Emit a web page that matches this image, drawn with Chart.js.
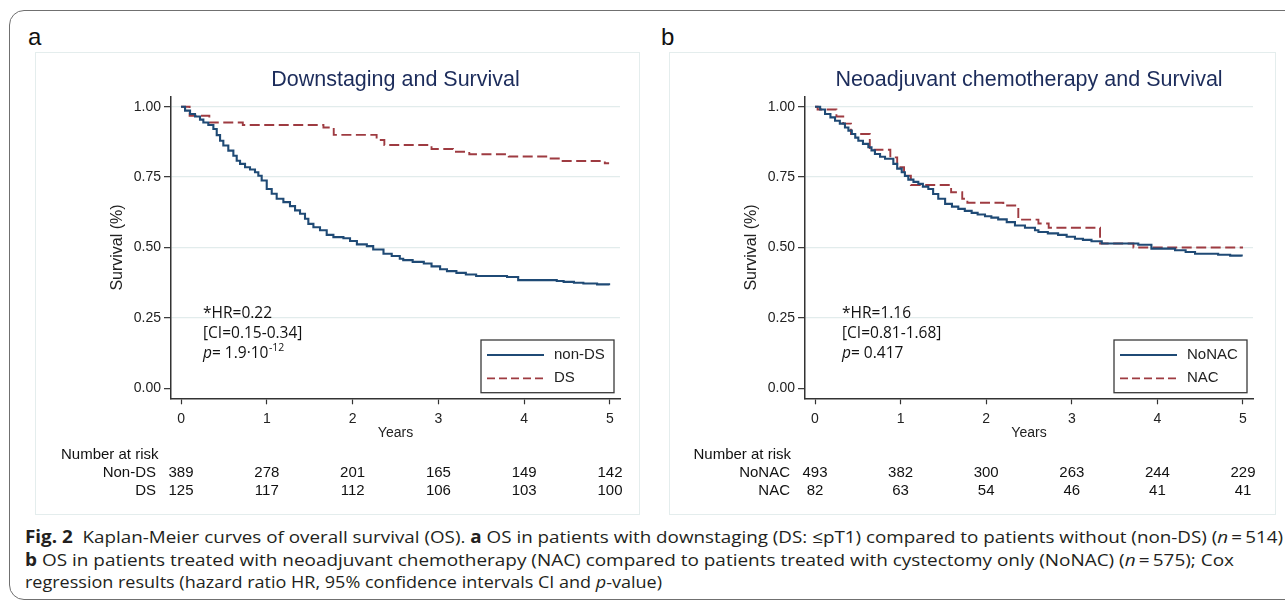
<!DOCTYPE html>
<html><head><meta charset="utf-8">
<script src="https://cdn.jsdelivr.net/npm/chart.js@4.4.1/dist/chart.umd.min.js"></script>
<style>
html,body{margin:0;padding:0;background:#fff;}
body{width:1285px;height:609px;position:relative;overflow:hidden;font-family:"Liberation Sans",Arial,sans-serif;}
#frame{position:absolute;left:9px;top:10px;width:1320px;height:590px;border:1.5px solid #707070;border-radius:15px;box-sizing:border-box;}
.plabel{position:absolute;font-size:24px;line-height:24px;color:#111;}
.pbox{position:absolute;top:52px;height:463px;border:1px solid #e4eded;box-sizing:border-box;}
canvas{position:absolute;top:52px;}
.cap{position:absolute;left:25px;font-family:"Open Sans",sans-serif;font-size:17px;line-height:22px;color:#231f20;white-space:nowrap;transform-origin:0 50%;}
</style></head>
<body>
<div id="frame"></div>
<div class="plabel" style="left:28px;top:24.5px;">a</div>
<div class="plabel" style="left:661px;top:24.7px;">b</div>
<div class="pbox" style="left:35px;width:605px;"></div>
<div class="pbox" style="left:669px;width:607px;"></div>
<canvas id="chartA" width="605" height="463" style="left:35px;width:605px;height:463px;"></canvas>
<canvas id="chartB" width="607" height="463" style="left:669px;width:607px;height:463px;"></canvas>
<div class="cap" data-w="1258" style="top:526.3px;"><b>Fig. 2</b>&nbsp; Kaplan-Meier curves of overall survival (OS). <b>a</b> OS in patients with downstaging (DS: ≤pT1) compared to patients without (non-DS) (<i>n</i>&thinsp;=&thinsp;514)</div>
<div class="cap" data-w="1209" style="top:548.8px;"><b>b</b> OS in patients treated with neoadjuvant chemotherapy (NAC) compared to patients treated with cystectomy only (NoNAC) (<i>n</i>&thinsp;=&thinsp;575); Cox</div>
<div class="cap" data-w="637" style="top:571.3px;">regression results (hazard ratio HR, 95% confidence intervals CI and <i>p</i>-value)</div>
<script>
// ---------- data ----------
const yearTicks = [0, 1, 2, 3, 4, 5];
const survivalTicks = [0, 0.25, 0.5, 0.75, 1];

// Panel a: Downstaging
const nonDS_t = [0,0.047,0.105,0.163,0.221,0.26,0.318,0.377,0.416,0.455,0.493,0.551,0.61,0.649,0.688,0.746,0.804,0.862,0.901,0.94,0.999,1.057,1.115,1.193,1.27,1.329,1.387,1.445,1.484,1.543,1.62,1.698,1.776,1.893,1.97,2.05,2.166,2.24,2.36,2.456,2.55,2.59,2.7,2.83,2.92,3.02,3.1,3.21,3.32,3.44,3.80,3.93,4.38,4.46,4.58,4.69,4.85,4.99];
const nonDS_s = [1,0.986,0.974,0.965,0.954,0.944,0.935,0.921,0.899,0.879,0.862,0.844,0.826,0.808,0.797,0.785,0.777,0.767,0.755,0.738,0.708,0.691,0.673,0.661,0.647,0.632,0.62,0.602,0.584,0.572,0.561,0.545,0.537,0.533,0.523,0.511,0.505,0.493,0.478,0.47,0.46,0.455,0.449,0.443,0.433,0.423,0.416,0.41,0.404,0.399,0.395,0.384,0.381,0.378,0.375,0.372,0.369,0.366];
const DS_t = [0,0.10,0.33,0.72,1.66,1.78,2.28,2.37,2.92,3.17,3.36,3.82,4.28,4.42,4.94,4.99];
const DS_s = [1,0.968,0.944,0.935,0.926,0.900,0.882,0.864,0.850,0.840,0.831,0.823,0.816,0.807,0.799,0.799];

// Panel b: Neoadjuvant chemotherapy
const NoNAC_t = [0,0.06,0.117,0.18,0.234,0.29,0.35,0.39,0.43,0.47,0.506,0.56,0.623,0.66,0.70,0.76,0.818,0.915,0.96,1.013,1.05,1.09,1.15,1.207,1.26,1.324,1.38,1.44,1.52,1.6,1.674,1.75,1.83,1.9,1.986,2.06,2.14,2.24,2.336,2.453,2.57,2.61,2.72,2.84,2.94,3.037,3.13,3.23,3.35,3.777,3.93,4.206,4.33,4.44,4.71,4.85,4.985];
const NoNAC_s = [1,0.99,0.974,0.962,0.95,0.94,0.926,0.915,0.903,0.89,0.879,0.868,0.856,0.845,0.832,0.822,0.815,0.797,0.78,0.767,0.754,0.741,0.733,0.726,0.716,0.708,0.69,0.673,0.655,0.645,0.637,0.63,0.623,0.617,0.611,0.606,0.60,0.59,0.578,0.57,0.561,0.555,0.55,0.545,0.538,0.531,0.527,0.522,0.514,0.51,0.496,0.49,0.484,0.478,0.474,0.471,0.468];
const NAC_t = [0,0.03,0.25,0.33,0.42,0.64,0.88,0.96,1.04,1.12,1.59,1.72,1.78,2.2,2.375,2.61,2.73,3.33,3.72,5.0];
const NAC_s = [1,0.99,0.965,0.94,0.903,0.847,0.82,0.785,0.755,0.722,0.696,0.673,0.659,0.649,0.599,0.585,0.57,0.514,0.50,0.50];

// Number at risk
const riskNonDS = [389, 278, 201, 165, 149, 142];
const riskDS    = [125, 117, 112, 106, 103, 100];
const riskNoNAC = [493, 382, 300, 263, 244, 229];
const riskNAC   = [82, 63, 54, 46, 41, 41];

// ---------- styling ----------
const BLUE = '#1f4a75';
const RED = '#9e3b41';
const FONT = '"Liberation Sans", Arial, sans-serif';
const AFONT = '"Open Sans", sans-serif';
Chart.defaults.font.family = FONT;
Chart.defaults.color = '#222';

const toPts = (t, s) => t.map((v, i) => ({x: v, y: s[i]}));

const kmExtras = {
  id: 'kmExtras',
  afterDatasetsDraw(chart, args, o) {
    const {ctx, chartArea: ca} = chart;
    const x = chart.scales.x;
    ctx.save();
    // title
    ctx.font = '21.5px ' + FONT;
    ctx.fillStyle = '#1c2c5b';
    ctx.textAlign = 'center';
    ctx.textBaseline = 'middle';
    ctx.fillText(o.title, (ca.left + ca.right) / 2, 28);

    // annotation
    ctx.fillStyle = '#111';
    ctx.textAlign = 'left';
    ctx.font = '15.5px ' + AFONT;
    ctx.fillText(o.ann[0], o.annX, 261.3);
    ctx.fillText(o.ann[1], o.annX, 281.5);
    ctx.font = 'italic 15.5px ' + AFONT;
    ctx.fillText('p', o.annX, 301.5);
    let px = o.annX + ctx.measureText('p').width;
    ctx.font = '15.5px ' + AFONT;
    ctx.fillText(o.ann[2], px, 301.5);
    if (o.sup) {
      px += ctx.measureText(o.ann[2]).width;
      ctx.font = '10.5px ' + AFONT;
      ctx.fillText(o.sup, px + 0.5, 296);
    }

    // legend
    const bw = 133, bh = 52.7;
    const bl = ca.right - 6 - bw, bt = ca.bottom - 5.6 - bh;
    ctx.fillStyle = '#fff';
    ctx.fillRect(bl, bt, bw, bh);
    ctx.strokeStyle = '#3a3a3a';
    ctx.lineWidth = 1.3;
    ctx.strokeRect(bl, bt, bw, bh);
    const rows = [bt + 15, bt + 38.3];
    o.legend.forEach((lab, i) => {
      ctx.beginPath();
      ctx.strokeStyle = i === 0 ? BLUE : RED;
      ctx.lineWidth = 1.8;
      ctx.setLineDash(i === 0 ? [] : [8, 4]);
      ctx.moveTo(bl + 6, rows[i]);
      ctx.lineTo(bl + 63, rows[i]);
      ctx.stroke();
      ctx.setLineDash([]);
      ctx.fillStyle = '#222';
      ctx.font = '15px ' + FONT;
      ctx.textAlign = 'left';
      ctx.fillText(lab, bl + 73, rows[i]);
    });

    // number at risk
    ctx.fillStyle = '#111';
    ctx.font = '15px ' + FONT;
    ctx.textAlign = 'left';
    ctx.fillText('Number at risk', o.riskLeft, 403);
    const ry = [421.2, 438.5];
    const x0 = x.getPixelForValue(yearTicks[0]);
    o.riskRows.forEach((r, j) => {
      ctx.textAlign = 'right';
      ctx.fillText(r.label, x0 - 25, ry[j]);
      ctx.textAlign = 'center';
      r.values.forEach((v, i) => ctx.fillText(String(v), x.getPixelForValue(yearTicks[i]), ry[j]));
    });
    ctx.restore();
  }
};

function makeChart(id, rightPad, seriesA, seriesB, extras) {
  return new Chart(document.getElementById(id), {
    type: 'line',
    data: {
      datasets: [
        {data: seriesA, borderColor: BLUE, borderWidth: 2.1, stepped: true, pointRadius: 0, fill: false},
        {data: seriesB, borderColor: RED, borderWidth: 1.9, borderDash: [10, 4.5], stepped: true, pointRadius: 0, fill: false}
      ]
    },
    options: {
      responsive: false,
      animation: false,
      devicePixelRatio: 1,
      parsing: true,
      layout: {padding: {left: 0, right: rightPad, top: 44.7, bottom: 0}},
      plugins: {legend: {display: false}, tooltip: {enabled: false}, kmExtras: extras},
      scales: {
        x: {
          type: 'linear', min: -0.117, max: 5.117,
          afterBuildTicks: s => { s.ticks = yearTicks.map(v => ({value: v})); },
          afterFit: s => { s.height = 116.7; },
          ticks: {font: {size: 14}, color: '#222', padding: 6.5, maxRotation: 0, callback: v => String(v)},
          grid: {display: true, drawOnChartArea: false, drawTicks: true, tickLength: 6, tickColor: '#333', tickWidth: 1.2},
          border: {display: true, color: '#333', width: 1.5},
          title: {display: true, text: 'Years', font: {size: 14}, color: '#222', padding: {top: 0, bottom: 73.6}}
        },
        y: {
          type: 'linear', min: -0.0355, max: 1.0355,
          afterBuildTicks: s => { s.ticks = survivalTicks.map(v => ({value: v})); },
          afterFit: s => { s.width = 136; },
          ticks: {font: {size: 14}, color: '#222', padding: 3, callback: v => Number(v).toFixed(2)},
          grid: {
            display: true, drawOnChartArea: true, drawTicks: true, tickLength: 7,
            color: c => (c.tick && c.tick.value === 0) ? 'rgba(0,0,0,0)' : '#e2ecec',
            lineWidth: 1.3, tickColor: '#333', tickWidth: 1.2
          },
          border: {display: true, color: '#333', width: 1.5},
          title: {display: true, text: 'Survival (%)', font: {size: 16}, color: '#222', padding: {top: 73, bottom: 0}}
        }
      }
    },
    plugins: [kmExtras]
  });
}

makeChart('chartA', 20, toPts(nonDS_t, nonDS_s), toPts(DS_t, DS_s), {
  title: 'Downstaging and Survival',
  ann: ['*HR=0.22', '[CI=0.15-0.34]', '= 1.9·10'], sup: '-12', annX: 168,
  legend: ['non-DS', 'DS'],
  riskLeft: 26,
  riskRows: [{label: 'Non-DS', values: riskNonDS}, {label: 'DS', values: riskDS}]
});
makeChart('chartB', 23, toPts(NoNAC_t, NoNAC_s), toPts(NAC_t, NAC_s), {
  title: 'Neoadjuvant chemotherapy and Survival',
  ann: ['*HR=1.16', '[CI=0.81-1.68]', '= 0.417'], sup: '', annX: 173,
  legend: ['NoNAC', 'NAC'],
  riskLeft: 24.5,
  riskRows: [{label: 'NoNAC', values: riskNoNAC}, {label: 'NAC', values: riskNAC}]
});

document.querySelectorAll('.cap').forEach(el => {
  const w = el.getBoundingClientRect().width;
  const target = Number(el.dataset.w);
  if (w > 0) el.style.transform = 'scaleX(' + (target / w) + ')';
});
</script>
</body></html>
